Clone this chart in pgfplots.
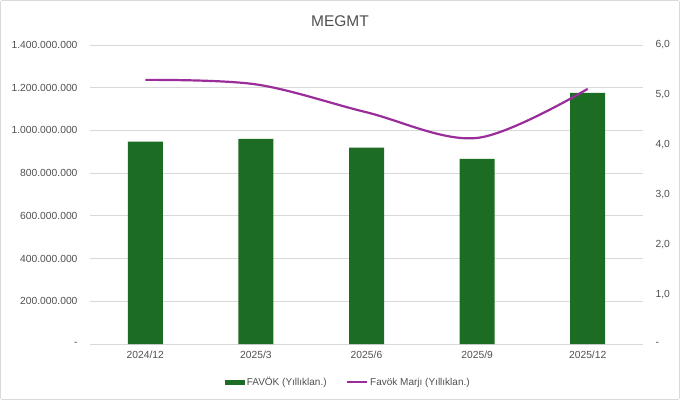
\documentclass[border=0pt]{standalone}
\usepackage{pgfplots}
\pgfplotsset{compat=1.18}
\usepackage{fontspec}
\setmainfont{Liberation Sans}
\definecolor{bargreen}{RGB}{28,108,36}
\definecolor{linepurple}{RGB}{155,45,155}
\definecolor{txt}{RGB}{80,80,80}
\definecolor{gridc}{RGB}{217,217,217}
\begin{document}
\begin{tikzpicture}[x=1pt,y=1pt]
\fill[white] (0,0) rectangle (680,400);
\draw[gridc, line width=0.8pt, rounded corners=2pt] (0.5,0.5) rectangle (679.5,399.5);
\node[txt, font=\fontsize{15.5}{17}\selectfont] at (340,379) {MEGMT};
\begin{axis}[at={(90pt,56pt)}, anchor=south west, scale only axis,
  width=553pt, height=299pt,
  xmin=-0.5, xmax=4.5, ymin=0, ymax=1.4e9,
  xtick={0,1,2,3,4},
  xticklabels={2024/12,2025/3,2025/6,2025/9,2025/12},
  ytick={0,200000000,400000000,600000000,800000000,1000000000,1200000000,1400000000},
  yticklabels={-,200.000.000,400.000.000,600.000.000,800.000.000,1.000.000.000,1.200.000.000,1.400.000.000},
  scaled y ticks=false,
  ymajorgrids, grid style={gridc, line width=0.8pt},
  axis line style={draw=none}, major tick length=0pt,
  tick label style={txt, font=\fontsize{10.3}{12}\selectfont},
  xticklabel style={yshift=-4pt},
  yticklabel style={xshift=-9pt},
  legend style={at={(0.467,0)}, anchor=north, yshift=-29pt, draw=none, fill=none,
    font=\fontsize{10}{11}\selectfont, text=txt, legend columns=2,
    /tikz/every even column/.append style={column sep=18pt}},
  legend cell align=left,
]
\addplot[ybar, bar width=35pt, fill=bargreen, draw=none,
  legend image code/.code={\fill[bargreen] (0pt,-2.5pt) rectangle (20pt,2.5pt);}]
  coordinates {(0,948000000) (1,961000000) (2,920000000) (3,867000000) (4,1176000000)};
\addlegendentry{FAVÖK (Yıllıklan.)}
\addlegendimage{linepurple, line width=1.6pt, legend image code/.code={\draw[linepurple, line width=1.6pt] (0pt,0pt) -- (20pt,0pt);}}
\addlegendentry{Favök Marjı (Yıllıklan.)}
\end{axis}
\begin{axis}[at={(90pt,56pt)}, anchor=south west, scale only axis,
  width=553pt, height=299pt,
  xmin=-0.5, xmax=4.5, ymin=0, ymax=6,
  axis y line*=right, axis x line=none,
  ytick={0,1,2,3,4,5,6},
  yticklabels={-,{1,0},{2,0},{3,0},{4,0},{5,0},{6,0}},
  axis line style={draw=none}, major tick length=0pt,
  tick label style={txt, font=\fontsize{10.3}{12}\selectfont},
  yticklabel style={xshift=9pt},
]
\addplot[linepurple, line width=2.2pt, smooth, tension=0.55, no marks]
  coordinates {(0,5.30) (1,5.21) (2,4.65) (3,4.135) (4,5.12)};
\end{axis}
\end{tikzpicture}
\end{document}
